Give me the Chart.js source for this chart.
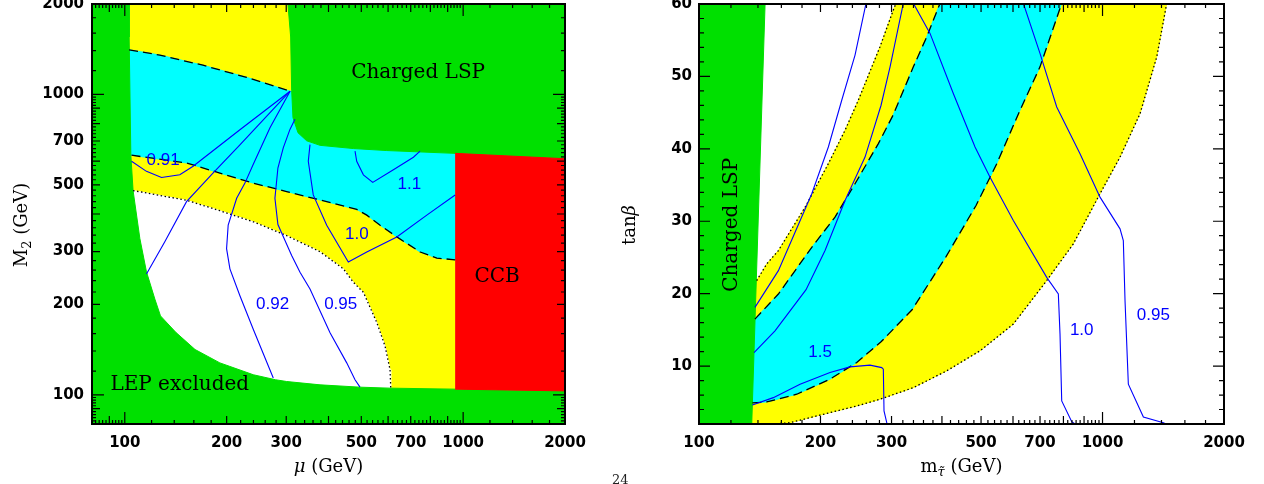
<!DOCTYPE html>
<html>
<head>
<meta charset="utf-8">
<script src="https://cdn.jsdelivr.net/npm/chart.js@4.4.0/dist/chart.umd.min.js"></script>
<style>
  html, body { margin: 0; padding: 0; background: #fff; }
  body { width: 1264px; height: 484px; position: relative; overflow: hidden; }
  canvas { position: absolute; top: 0; }
  #left { left: 0; }
  #right { left: 620px; }
  #pageno { position: absolute; left: 612px; top: 472px; font: 13px "DejaVu Serif"; color: #222; }
</style>
</head>
<body>
<canvas id="left" width="600" height="484"></canvas>
<canvas id="right" width="644" height="484"></canvas>
<div id="pageno">24</div>
<script>
const GREEN = '#00e000', YELLOW = '#ffff00', CYAN = '#00ffff', RED = '#ff0000', BLUE = '#0000ff';

// ---- left panel: mu vs M2 ----
const muTicks = [100, 200, 300, 500, 700, 1000, 2000];
const m2Ticks = [100, 200, 300, 500, 700, 1000, 2000];

const upperDashMu = [103.0, 126.9, 170.2, 229.1, 308];
const upperDashM2 = [1408, 1352, 1251, 1140, 1025];
const lowerDashMu = [104.7, 152.2, 191.0, 239.7, 300.8, 377.6, 484.7, 519, 568.3, 636.7, 746.6, 836.2, 947];
const lowerDashM2 = [627.6, 591.4, 547.3, 506.8, 475.2, 445.3, 414.4, 396.6, 367.1, 335.6, 298.9, 285.3, 281.6];
const dottedMu = [105.8, 152.2, 191.0, 239.7, 300.8, 377.6, 442.5, 473.6, 507.2, 555.7, 587.8, 608.1, 611];
const dottedM2 = [478.8, 444.3, 410.3, 376.9, 339.0, 299.6, 262.7, 237.1, 219.4, 174.1, 145.3, 121.3, 105.3];
const lepMu = [103.0, 103.0, 104.2, 105.8, 110.8, 115.9, 122.7, 127.5, 141.5, 161.3, 191.0, 203.9, 239.7, 278.8, 300.8, 377.6, 495.7, 608.1, 947, 2000];
const lepM2 = [2000, 1553, 629, 478.8, 331.3, 256.8, 208.4, 183.2, 161.5, 141.6, 127.8, 124.5, 116.7, 112.3, 110.8, 108.0, 106.1, 105.3, 104.5, 103.1];
const lspMu = [303.5, 309.2, 311.3, 314.1, 325.0, 344.8, 377.6, 473.6, 594.7, 947, 2000];
const lspM2 = [2000, 1553, 1031, 837, 745.6, 701, 677, 660.6, 650.5, 636.6, 611];
const ccbMu = [947, 2000, 2000, 947];
const ccbM2 = [104.5, 103.1, 611, 636.6];

const c091Mu = [308, 218.9, 159.2, 145.4, 128.4, 115.9, 104.7];
const c091M2 = [1025, 763.0, 576.5, 540.1, 529.4, 554.5, 599.3];
const cLongMu = [308, 218.9, 182.2, 152.2, 131.3, 115.9];
const cLongM2 = [1025, 679.4, 547.3, 439.8, 323.6, 252.7];
const c092Mu = [308, 268.6, 239.2, 226.5, 214.1, 202.1, 199.9, 204.5, 218.9, 239.7, 274.7];
const c092M2 = [1025, 774.9, 582.3, 506.8, 451.2, 367.1, 306.6, 262.7, 213.8, 165.3, 113.8];
const c095Mu = [318.4, 307.7, 294.0, 283.5, 277.8, 283.5, 311.3, 329.5, 352.7, 404.2, 452.8, 479.1, 495.7];
const c095M2 = [826.3, 764.8, 663.8, 569.0, 451.2, 369.1, 291.1, 256.1, 225.1, 161.1, 127.8, 112.3, 106.1];
const c100Mu = [352.7, 348.6, 360.6, 395.2, 457.7, 519, 636.7, 780.9, 947];
const c100M2 = [681.0, 599.3, 462.9, 367.1, 276.7, 298.9, 335.6, 396.6, 462.9];
const c110Mu = [479.1, 484.7, 507.2, 540.5, 622.1, 712.9, 746];
const c110M2 = [647.2, 599.3, 540.1, 509.5, 561.5, 617.9, 647.2];

// ---- right panel: m_stau vs tan(beta) ----
const mTauTicks = [100, 200, 300, 500, 700, 1000, 2000];
const tanbTicks = [10, 20, 30, 40, 50, 60];

const upDotM = [139.0, 147.2, 157.3, 183.2, 209.2, 230.1, 248.2, 280.9, 303.1, 307.8];
const upDotT = [21.80, 24.11, 25.95, 31.94, 37.95, 42.56, 46.71, 54.09, 59.17, 60.10];
const upDashM = [137.6, 157.3, 190.3, 217.3, 243.6, 278.3, 302.6, 339.8, 366.8, 395.7];
const upDashT = [16.49, 19.95, 26.40, 30.56, 35.18, 40.72, 44.64, 51.32, 55.48, 60.10];
const loDashM = [135.6, 147.2, 174.7, 211.2, 246.0, 282.6, 337.3, 409.5, 485.9, 546.9, 624.5, 699.9, 792.3];
const loDashT = [4.91, 5.05, 6.11, 8.19, 10.49, 13.35, 17.78, 25.12, 32.18, 37.95, 45.33, 51.32, 60.10];
const loDotM = [151.7, 168.1, 203.3, 246.0, 280.9, 339.8, 411.1, 497.1, 601.1, 727.2, 846.5, 985.8, 1105, 1239, 1362.8, 1442.8];
const loDotT = [2.00, 2.18, 3.34, 4.49, 5.42, 7.02, 9.34, 12.11, 15.80, 21.80, 26.88, 33.80, 38.86, 44.87, 52.71, 60.10];
const bandM = [100, 135.1, 145.8, 100];
const bandT = [2, 2, 60, 60];

const lineAM = [137.6, 157.3, 190.3, 209.2, 225.8, 243.6, 259.4];
const lineAT = [18.10, 23.18, 33.80, 40.25, 46.71, 52.94, 60.10];
const lineBM = [136.9, 154.3, 184.2, 205.3, 230.1, 257.9, 282.6, 297.5, 320.9];
const lineBT = [11.87, 14.87, 20.55, 25.95, 32.87, 38.86, 46.02, 51.32, 60.10];
const c15M = [135.6, 152.8, 178.0, 211.2, 236.7, 265.3, 283.7, 286.3, 287.4, 291.9, 292.4];
const c15T = [4.63, 5.64, 7.50, 9.10, 9.89, 10.13, 9.79, 9.57, 3.80, 2.18, 2.00];
const c10M = [339.8, 373.7, 426.8, 483.1, 526.3, 601.1, 727.2, 777.1, 784.6, 792.3, 838.8, 854.8];
const c10T = [60.10, 55.94, 47.64, 40.25, 36.09, 30.10, 22.25, 19.95, 14.42, 5.18, 2.32, 2.00];
const c095M = [636.4, 699.9, 770.0, 879.5, 985.8, 1105, 1126, 1137, 1158.7, 1262.6, 1415, 1437];
const c095T = [60.10, 53.18, 45.78, 39.33, 33.33, 28.95, 27.33, 19.03, 7.50, 2.97, 2.18, 2.00];

const pts = (xs, ys) => xs.map((x, i) => ({ x, y: ys[i] }));
const rev = a => a.slice().reverse();

function area(data, color, order) {
  return { data, backgroundColor: color, borderColor: color, borderWidth: 1, fill: 'shape', pointRadius: 0, order };
}
function curve(data, color, dash, width, order) {
  return { data, borderColor: color, borderWidth: width, borderDash: dash, fill: false, pointRadius: 0, order };
}
const DASH = [9, 5], DOT = [1.5, 2.5];

// tick marks along the frame (positions go through the chart scales)
function logMarks(lo, hi) {
  const out = [];
  for (let d = 10; d <= hi; d *= 10) {
    const step = d / 5;
    for (let v = d; v < d * 10; v += step) {
      if (v >= lo && v <= hi) out.push([v, v === d ? 12 : (v % d === 0 ? 8 : 4)]);
    }
  }
  return out;
}
function linMarks(lo, hi) {
  const out = [];
  for (let v = lo; v <= hi; v += 2) out.push([v, v % 10 === 0 ? 11 : 5]);
  return out;
}
const frameMarks = {
  left: { x: logMarks(80, 2000), y: logMarks(80, 2000) },
  right: { x: logMarks(100, 2000), y: linMarks(2, 60) }
};

const framePlugin = {
  id: 'frame',
  afterDatasetsDraw(chart) {
    const { ctx, chartArea: a, scales: { x, y } } = chart;
    const marks = frameMarks[chart.canvas.id];
    ctx.save();
    ctx.strokeStyle = '#000';
    ctx.lineWidth = 1.2;
    ctx.setLineDash([]);
    ctx.beginPath();
    for (const [v, len] of marks.x) {
      const px = x.getPixelForValue(v);
      ctx.moveTo(px, a.bottom); ctx.lineTo(px, a.bottom - len);
      ctx.moveTo(px, a.top); ctx.lineTo(px, a.top + len);
    }
    for (const [v, len] of marks.y) {
      const py = y.getPixelForValue(v);
      ctx.moveTo(a.left, py); ctx.lineTo(a.left + len, py);
      ctx.moveTo(a.right, py); ctx.lineTo(a.right - len, py);
    }
    ctx.stroke();
    ctx.lineWidth = 2;
    ctx.strokeRect(a.left, a.top, a.right - a.left, a.bottom - a.top);
    ctx.restore();
  }
};

function drawRich(ctx, parts, cx, cy, size, rot) {
  ctx.save();
  ctx.translate(cx, cy);
  if (rot) ctx.rotate(rot);
  const fnt = p => `${p.it ? 'italic ' : ''}${p.sub ? size * 0.72 : size}px "DejaVu Serif"`;
  let w = 0;
  for (const p of parts) { ctx.font = fnt(p); w += ctx.measureText(p.t).width; }
  let x = -w / 2;
  ctx.textBaseline = 'middle';
  ctx.textAlign = 'left';
  ctx.fillStyle = '#000';
  for (const p of parts) {
    ctx.font = fnt(p);
    ctx.fillText(p.t, x, p.sub ? size * 0.32 : 0);
    x += ctx.measureText(p.t).width;
  }
  ctx.restore();
}

const blueFont = '17px "Liberation Sans"';
const regionFont = '20px "DejaVu Serif"';

const panelText = {
  left: {
    notes: [
      ['0.91', 129.8, 604, blueFont, BLUE, 0],
      ['1.1', 693.6, 502.6, blueFont, BLUE, 0],
      ['1.0', 484.9, 341.7, blueFont, BLUE, 0],
      ['0.92', 273.5, 200.5, blueFont, BLUE, 0],
      ['0.95', 434.6, 200.5, blueFont, BLUE, 0],
      ['Charged LSP', 736, 1180, regionFont, '#000', 0],
      ['CCB', 1260, 247, regionFont, '#000', 0],
      ['LEP excluded', 145.4, 108.3, regionFont, '#000', 0]
    ],
    xTitle: [{ t: 'μ', it: true }, { t: ' (GeV)' }],
    yTitle: [{ t: 'M' }, { t: '2', sub: true }, { t: ' (GeV)' }],
    yGap: 70
  },
  right: {
    notes: [
      ['1.5', 199.5, 11.87, blueFont, BLUE, 0],
      ['1.0', 888, 14.87, blueFont, BLUE, 0],
      ['0.95', 1336, 16.95, blueFont, BLUE, 0],
      ['Charged LSP', 120.5, 29.5, regionFont, '#000', -Math.PI / 2]
    ],
    xTitle: [{ t: 'm' }, { t: 'τ̃', it: true, sub: true }, { t: ' (GeV)' }],
    yTitle: [{ t: 'tan' }, { t: 'β', it: true }],
    yGap: 69
  }
};

const textPlugin = {
  id: 'texts',
  afterDraw(chart) {
    const { ctx, chartArea: a, scales: { x, y } } = chart;
    const cfg = panelText[chart.canvas.id];
    for (const [text, vx, vy, font, color, rot] of cfg.notes) {
      ctx.save();
      ctx.translate(x.getPixelForValue(vx), y.getPixelForValue(vy));
      if (rot) ctx.rotate(rot);
      ctx.textAlign = 'center';
      ctx.textBaseline = 'middle';
      ctx.font = font;
      ctx.fillStyle = color;
      ctx.fillText(text, 0, 0);
      ctx.restore();
    }
    drawRich(ctx, cfg.xTitle, (a.left + a.right) / 2, a.bottom + 43, 18, 0);
    drawRich(ctx, cfg.yTitle, a.left - cfg.yGap, 225, 18, -Math.PI / 2);
  }
};

function axes(xType, xMin, xMax, xTicks, yType, yMin, yMax, yTicks, yWidth, yPad) {
  const tickFont = { family: 'DejaVu Sans', size: 15, weight: 'bold' };
  return {
    x: {
      type: xType, min: xMin, max: xMax, bounds: 'data',
      grid: { display: false, drawTicks: false }, border: { display: false },
      afterBuildTicks: s => { s.ticks = xTicks.map(v => ({ value: v })); },
      afterFit: s => { s.height = 60; s.paddingLeft = 0; s.paddingRight = 0; },
      ticks: { color: '#000', font: tickFont, padding: 10, autoSkip: false, maxRotation: 0, minRotation: 0, callback: v => String(v) }
    },
    y: {
      type: yType, min: yMin, max: yMax, bounds: 'data',
      grid: { display: false, drawTicks: false }, border: { display: false },
      afterBuildTicks: s => { s.ticks = yTicks.map(v => ({ value: v })); },
      afterFit: s => { s.width = yWidth; s.paddingTop = 0; s.paddingBottom = 0; },
      ticks: { color: '#000', font: tickFont, padding: yPad, autoSkip: false, callback: v => String(v) }
    }
  };
}

const common = {
  responsive: false,
  animation: false,
  events: [],
  plugins: { legend: { display: false }, tooltip: { enabled: false } }
};

new Chart(document.getElementById('left'), {
  type: 'line',
  data: {
    datasets: [
      area(pts([80, 947, 947, 80], [80, 80, 2000, 2000]), YELLOW, 20),
      area(pts(dottedMu.concat([611, 80, 80]), dottedM2.concat([80, 80, 478.8])), '#ffffff', 19),
      area(pts(upperDashMu.concat([947, 947], rev(lowerDashMu), [90, 90]),
               upperDashM2.concat([1025, 281.6], rev(lowerDashM2), [627.6, 1408])), CYAN, 18),
      area(pts(lepMu.concat([2000, 80, 80]), lepM2.concat([80, 80, 2000])), GREEN, 17),
      area(pts([2000].concat(lspMu), [2000].concat(lspM2)), GREEN, 16),
      area(pts(ccbMu, ccbM2), RED, 15),
      curve(pts(upperDashMu, upperDashM2), '#000', DASH, 1.3, 5),
      curve(pts(lowerDashMu, lowerDashM2), '#000', DASH, 1.3, 5),
      curve(pts(dottedMu, dottedM2), '#000', DOT, 1.3, 5),
      curve(pts(c091Mu, c091M2), BLUE, [], 1.1, 1),
      curve(pts(cLongMu, cLongM2), BLUE, [], 1.1, 1),
      curve(pts(c092Mu, c092M2), BLUE, [], 1.1, 1),
      curve(pts(c095Mu, c095M2), BLUE, [], 1.1, 1),
      curve(pts(c100Mu, c100M2), BLUE, [], 1.1, 1),
      curve(pts(c110Mu, c110M2), BLUE, [], 1.1, 1)
    ]
  },
  options: {
    ...common,
    layout: { padding: { left: 0, right: 35, top: 4, bottom: 0 } },
    scales: axes('logarithmic', 80, 2000, muTicks, 'logarithmic', 80, 2000, m2Ticks, 92, 8)
  },
  plugins: [framePlugin, textPlugin]
});

new Chart(document.getElementById('right'), {
  type: 'line',
  data: {
    datasets: [
      area(pts(rev(upDotM).concat([120, 120], loDotM), rev(upDotT).concat([21.8, 2], loDotT)), YELLOW, 20),
      area(pts(rev(upDashM).concat([120, 120], loDashM), rev(upDashT).concat([16.49, 4.91], loDashT)), CYAN, 18),
      area(pts(bandM, bandT), GREEN, 16),
      curve(pts(upDotM, upDotT), '#000', DOT, 1.3, 5),
      curve(pts(loDotM, loDotT), '#000', DOT, 1.3, 5),
      curve(pts(upDashM, upDashT), '#000', DASH, 1.3, 5),
      curve(pts(loDashM, loDashT), '#000', DASH, 1.3, 5),
      curve(pts(lineAM, lineAT), BLUE, [], 1.1, 1),
      curve(pts(lineBM, lineBT), BLUE, [], 1.1, 1),
      curve(pts(c15M, c15T), BLUE, [], 1.1, 1),
      curve(pts(c10M, c10T), BLUE, [], 1.1, 1),
      curve(pts(c095M, c095T), BLUE, [], 1.1, 1)
    ]
  },
  options: {
    ...common,
    layout: { padding: { left: 0, right: 40, top: 4, bottom: 0 } },
    scales: axes('logarithmic', 100, 2000, mTauTicks, 'linear', 2, 60, tanbTicks, 79, 7)
  },
  plugins: [framePlugin, textPlugin]
});
</script>
</body>
</html>
